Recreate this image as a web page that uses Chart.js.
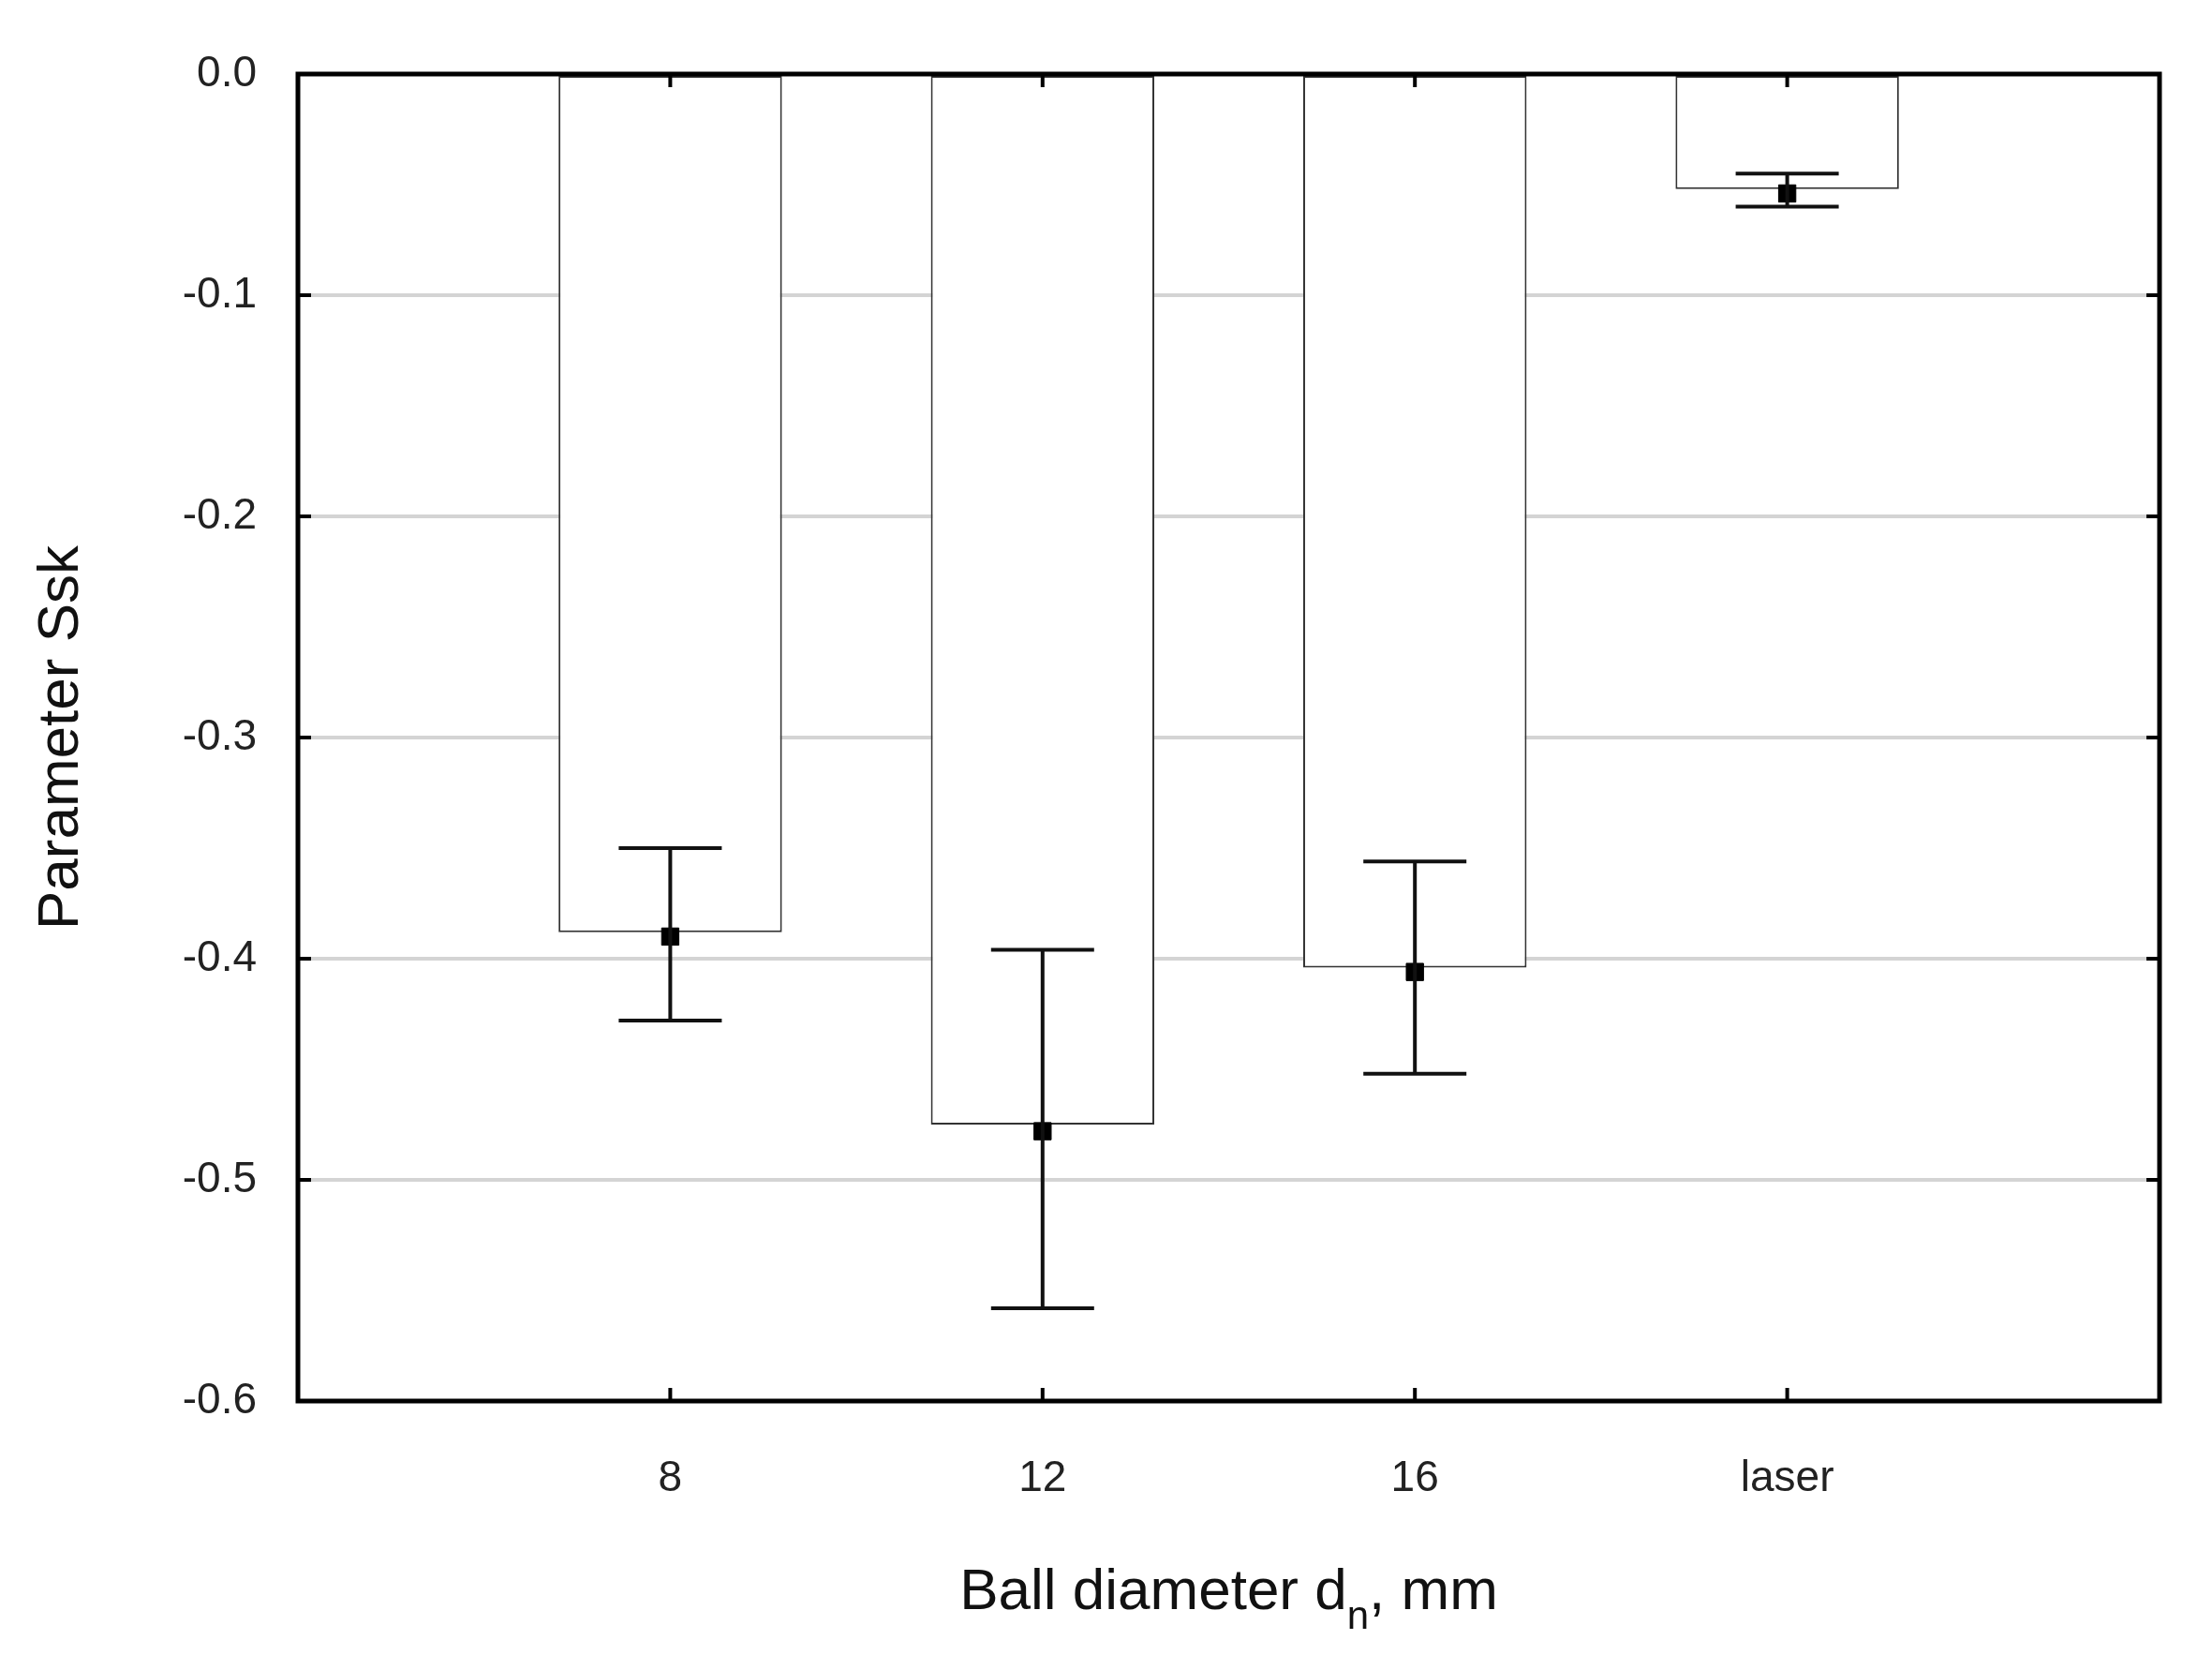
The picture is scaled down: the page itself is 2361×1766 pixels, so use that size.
<!DOCTYPE html>
<html>
<head>
<meta charset="utf-8">
<script src="https://cdn.jsdelivr.net/npm/chart.js@4"></script>
<style>
  html, body { margin: 0; padding: 0; background: #fff; }
  #wrap { width: 2361px; height: 1766px; }
</style>
</head>
<body>
<div id="wrap"><canvas id="sskChart"></canvas></div>
<script>
// categories (blank slots pad the axis at both ends)
const categories = ["", "8", "12", "16", "laser", ""];
const barValues = [null, -0.388, -0.475, -0.404, -0.052, null];
const meanValues = [null, -0.39, -0.478, -0.406, -0.054, null];
const errUpper = [null, -0.35, -0.396, -0.356, -0.045, null];
const errLower = [null, -0.428, -0.558, -0.452, -0.06, null];
const yTicks = [0, -0.1, -0.2, -0.3, -0.4, -0.5, -0.6];

const FONT = "'Liberation Sans', Arial, sans-serif";

/**
 * Error bars, frame ticks and axis titles
 */
const decorations = {
  id: "decorations",
  afterDatasetsDraw(chart) {
    const { ctx, scales: { x, y } } = chart;
    ctx.save();
    ctx.strokeStyle = "#111";
    ctx.lineWidth = 4;
    for (let i = 0; i < categories.length; i++) {
      if (errUpper[i] === null) continue;
      const px = x.getPixelForValue(i);
      const top = y.getPixelForValue(errUpper[i]);
      const bot = y.getPixelForValue(errLower[i]);
      ctx.beginPath();
      ctx.moveTo(px, top); ctx.lineTo(px, bot);
      ctx.moveTo(px - 55, top); ctx.lineTo(px + 55, top);
      ctx.moveTo(px - 55, bot); ctx.lineTo(px + 55, bot);
      ctx.stroke();
    }
    ctx.restore();
  },
  afterDraw(chart) {
    const { ctx, chartArea: a, scales: { x, y } } = chart;
    ctx.save();
    ctx.strokeStyle = "#000";
    ctx.lineWidth = 5;
    ctx.strokeRect(a.left, a.top, a.right - a.left, a.bottom - a.top);
    ctx.lineWidth = 4;
    ctx.beginPath();
    yTicks.forEach((v) => {
      const py = y.getPixelForValue(v);
      ctx.moveTo(a.left, py); ctx.lineTo(a.left + 14, py);
      ctx.moveTo(a.right, py); ctx.lineTo(a.right - 14, py);
    });
    for (let i = 1; i <= 4; i++) {
      const px = x.getPixelForValue(i);
      ctx.moveTo(px, a.top); ctx.lineTo(px, a.top + 14);
      ctx.moveTo(px, a.bottom); ctx.lineTo(px, a.bottom - 14);
    }
    ctx.stroke();

    // axis titles
    ctx.fillStyle = "#111";
    ctx.font = "62px " + FONT;
    ctx.textBaseline = "middle";
    ctx.textAlign = "center";
    ctx.save();
    ctx.translate(66, (a.top + a.bottom) / 2);
    ctx.rotate(-Math.PI / 2);
    ctx.fillText("Parameter Ssk", 0, 0);
    ctx.restore();

    const main = "Ball diameter d";
    const tail = ", mm";
    ctx.font = "62px " + FONT;
    const w1 = ctx.measureText(main).width;
    const w3 = ctx.measureText(tail).width;
    ctx.font = "42px " + FONT;
    const w2 = ctx.measureText("n").width;
    const start = (a.left + a.right) / 2 - (w1 + w2 + w3) / 2;
    const ty = 1700;
    ctx.textAlign = "left";
    ctx.font = "62px " + FONT;
    ctx.fillText(main, start, ty);
    ctx.font = "42px " + FONT;
    ctx.fillText("n", start + w1, ty + 26);
    ctx.font = "62px " + FONT;
    ctx.fillText(tail, start + w1 + w2, ty);
    ctx.restore();
  },
};

new Chart(document.getElementById("sskChart"), {
  type: "bar",
  data: {
    labels: categories,
    datasets: [
      {
        type: "line",
        label: "Mean",
        data: meanValues,
        showLine: false,
        pointStyle: "rect",
        pointRadius: 13,
        backgroundColor: "#000",
        borderColor: "#000",
        order: 0,
      },
      {
        label: "Ssk",
        data: barValues,
        backgroundColor: "#fff",
        borderColor: "#333",
        borderWidth: 2,
        borderSkipped: false,
        barPercentage: 1,
        categoryPercentage: 0.6,
        order: 1,
      },
    ],
  },
  options: {
    responsive: true,
    maintainAspectRatio: false,
    animation: false,
    layout: { padding: { top: 79, right: 28, left: 0, bottom: 0 } },
    plugins: { legend: { display: false }, tooltip: { enabled: false } },
    scales: {
      x: {
        offset: false,
        grid: { display: false, drawTicks: false },
        border: { display: false },
        ticks: { color: "#222", padding: 56, font: { family: FONT, size: 46 } },
        afterFit(s) { s.height = 271; },
      },
      y: {
        min: -0.6,
        max: 0,
        afterBuildTicks(s) { s.ticks = yTicks.map((v) => ({ value: v })); },
        grid: { color: "#d4d4d4", lineWidth: 4, drawTicks: false },
        border: { display: false },
        ticks: {
          color: "#222",
          padding: 44,
          font: { family: FONT, size: 46 },
          callback: (v) => v.toFixed(1),
        },
        afterFit(s) { s.width = 318; },
      },
    },
  },
  plugins: [decorations],
});
</script>
</body>
</html>
